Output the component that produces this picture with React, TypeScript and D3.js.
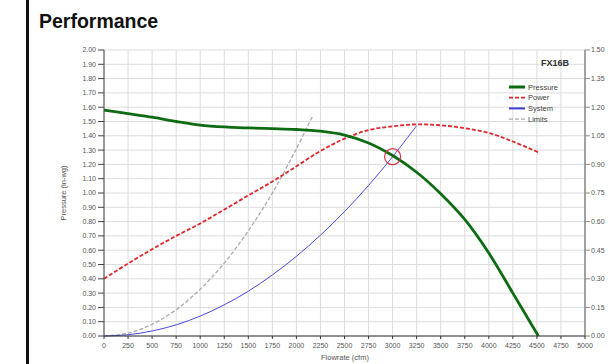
import React from "react";
import * as d3 from "d3";

const flowTicks = d3.range(0, 5001, 250);
const pressureTicks = d3.range(0, 2.001, 0.1);
const powerTicks = d3.range(0, 1.501, 0.15);

const pressureFlow = [0, 250, 500, 750, 1000, 1250, 1500, 1750, 2000, 2250, 2500, 2750, 3000, 3250, 3500, 3750, 4000, 4250, 4515];
const pressureVals = [1.58, 1.555, 1.53, 1.50, 1.475, 1.462, 1.455, 1.45, 1.444, 1.432, 1.405, 1.35, 1.262, 1.145, 0.995, 0.815, 0.58, 0.30, 0.0];

const powerFlow = [0, 250, 500, 750, 1000, 1250, 1500, 1750, 2000, 2250, 2500, 2750, 3000, 3250, 3500, 3750, 4000, 4250, 4530];
const powerVals = [0.30, 0.38, 0.455, 0.525, 0.59, 0.663, 0.737, 0.81, 0.89, 0.97, 1.035, 1.08, 1.10, 1.11, 1.105, 1.09, 1.065, 1.02, 0.96];

const systemFlow = [0, 250, 500, 750, 1000, 1250, 1500, 1750, 2000, 2250, 2500, 2750, 3000, 3250];
const systemVals = [0, 0.009, 0.035, 0.078, 0.139, 0.218, 0.313, 0.427, 0.557, 0.705, 0.87, 1.053, 1.254, 1.47];

const limitFlow = [0, 250, 500, 750, 1000, 1250, 1500, 1750, 2000, 2170];
const limitVals = [0, 0.02, 0.082, 0.184, 0.327, 0.51, 0.735, 1.0, 1.31, 1.54];

const operatingPoint = { flow: 3000, pressure: 1.254 };

const legendItems = [
  { label: "Pressure", color: "#0d6b12", width: 3, dash: "" },
  { label: "Power", color: "#e0262a", width: 1.8, dash: "4,2" },
  { label: "System", color: "#3a3ad6", width: 2, dash: "" },
  { label: "Limits", color: "#aaaaaa", width: 1.2, dash: "4,2" },
];

export default function App() {
  const x = d3.scaleLinear().domain([0, 5000]).range([104, 585]);
  const yL = d3.scaleLinear().domain([0, 2]).range([336, 50]);
  const yR = d3.scaleLinear().domain([0, 1.5]).range([336, 50]);

  const mk = (xs: number[], ys: number[], ys2: d3.ScaleLinear<number, number>) =>
    d3
      .line<number>()
      .x((_, i) => x(xs[i]))
      .y((v) => ys2(v))
      .curve(d3.curveCatmullRom.alpha(0.5))(ys) || "";

  const font = "'Liberation Sans', Arial, sans-serif";
  const tickColor = "#555";

  return (
    <div style={{ position: "absolute", left: 0, top: 0 }}>
      <svg width={611} height={364} style={{ display: "block", background: "#fff" }} fontFamily={font}>
        <rect x={26} y={0} width={3} height={364} fill="#111" />
        <text x={39} y={28} fontSize={19.5} fontWeight="bold" fill="#111">Performance</text>

        {/* grid */}
        {flowTicks.map((t) => (
          <line key={"gx" + t} x1={x(t)} x2={x(t)} y1={50} y2={336} stroke="#dcdcdc" strokeWidth={1} />
        ))}
        {pressureTicks.map((t) => (
          <line key={"gy" + t} x1={104} x2={585} y1={yL(t)} y2={yL(t)} stroke="#dcdcdc" strokeWidth={1} />
        ))}

        {/* curves */}
        <path d={mk(limitFlow, limitVals, yL)} fill="none" stroke="#aaaaaa" strokeWidth={1.3} strokeDasharray="4,2" />
        <path d={mk(systemFlow, systemVals, yL)} fill="none" stroke="#4848dc" strokeWidth={1} />
        <path d={mk(powerFlow, powerVals, yR)} fill="none" stroke="#e0262a" strokeWidth={1.8} strokeDasharray="4,2" />
        <path d={mk(pressureFlow, pressureVals, yL)} fill="none" stroke="#0d6b12" strokeWidth={2.8} />
        <circle cx={x(operatingPoint.flow)} cy={yL(operatingPoint.pressure)} r={8} fill="none" stroke="#d03040" strokeWidth={1.2} />

        {/* left axis */}
        <line x1={104} x2={104} y1={50} y2={336} stroke="#444" strokeWidth={1} />
        {pressureTicks.map((t) => (
          <g key={"ly" + t}>
            <line x1={98} x2={104} y1={yL(t)} y2={yL(t)} stroke="#444" />
            <text x={96} y={yL(t)} dy="0.35em" textAnchor="end" fontSize={7} fill={tickColor}>{t.toFixed(2)}</text>
          </g>
        ))}
        <text transform={`translate(66,193) rotate(-90)`} textAnchor="middle" fontSize={7.5} fill={tickColor}>Pressure (in-wg)</text>

        {/* right axis */}
        <line x1={585} x2={585} y1={50} y2={336} stroke="#888" strokeWidth={1.5} />
        {powerTicks.map((t) => (
          <g key={"ry" + t}>
            <line x1={585} x2={590} y1={yR(t)} y2={yR(t)} stroke="#888" />
            <text x={591} y={yR(t)} dy="0.35em" fontSize={7} fill={tickColor}>{t.toFixed(2)}</text>
          </g>
        ))}

        {/* bottom axis */}
        <line x1={104} x2={585} y1={336} y2={336} stroke="#333" strokeWidth={1.2} />
        {flowTicks.map((t) => (
          <g key={"bx" + t}>
            <line x1={x(t)} x2={x(t)} y1={336} y2={339} stroke="#333" />
            <text x={x(t)} y={348} textAnchor="middle" fontSize={7} fill={tickColor}>{t}</text>
          </g>
        ))}
        <text x={345} y={360} textAnchor="middle" fontSize={7.5} fill={tickColor}>Flowrate (cfm)</text>

        {/* model label + legend */}
        <text x={569} y={66} textAnchor="end" fontSize={9} fontWeight="bold" fill="#333">FX16B</text>
        {legendItems.map((it, i) => (
          <g key={it.label} transform={`translate(0,${87 + i * 10.7})`}>
            <line x1={509} x2={525} y1={0} y2={0} stroke={it.color} strokeWidth={it.width} strokeDasharray={it.dash} />
            <text x={528} y={0} dy="0.35em" fontSize={7.5} fill="#444">{it.label}</text>
          </g>
        ))}
      </svg>
    </div>
  );
}
